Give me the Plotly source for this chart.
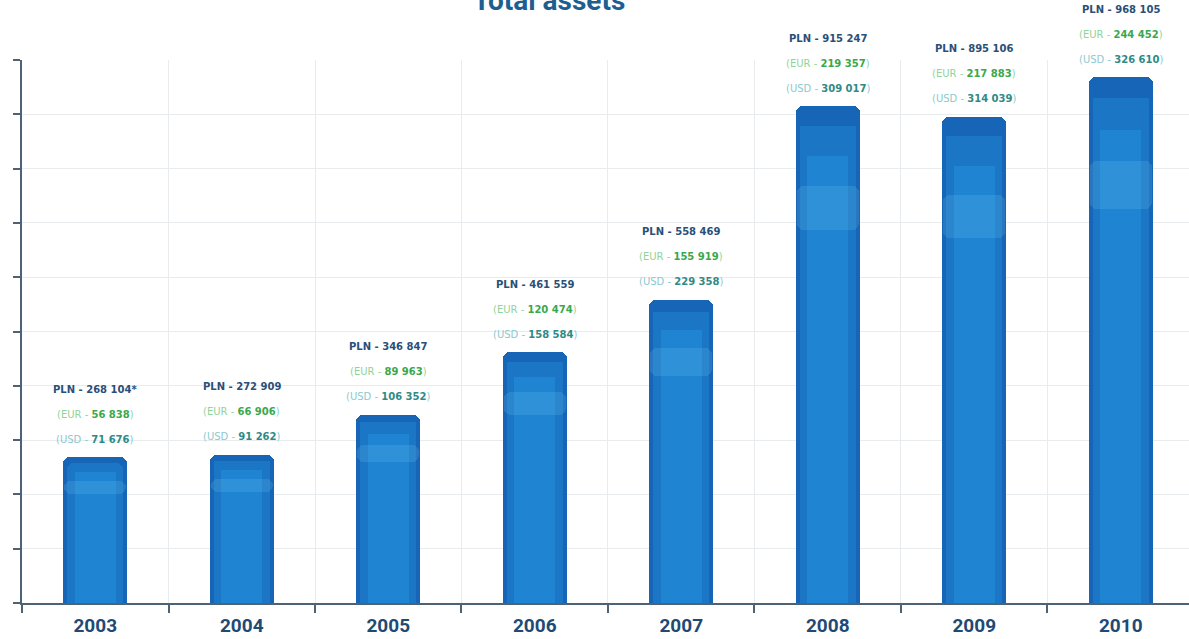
import plotly.graph_objects as go

# Total assets by year, in thousands
years = ["2003", "2004", "2005", "2006", "2007", "2008", "2009", "2010"]
pln = [268104, 272909, 346847, 461559, 558469, 915247, 895106, 968105]
eur = [56838, 66906, 89963, 120474, 155919, 219357, 217883, 244452]
usd = [71676, 91262, 106352, 158584, 229358, 309017, 314039, 326610]
pln_note = ["*", "", "", "", "", "", "", ""]


def fmt(v):
    return f"{v:,}".replace(",", " ")


fig = go.Figure()

# Bar body built from overlaid layers to give a shaded blue column
fig.add_trace(go.Bar(x=years, y=pln, width=0.44, marker=dict(color="#1765b6", line=dict(width=0)),
                     hoverinfo="skip"))
fig.add_trace(go.Bar(x=years, y=[v * 0.96 for v in pln], width=0.38,
                     marker=dict(color="#1b76c6", line=dict(width=0)), hoverinfo="skip"))
fig.add_trace(go.Bar(x=years, y=[v * 0.90 for v in pln], width=0.28,
                     marker=dict(color="#1f84d2", line=dict(width=0)), hoverinfo="skip"))
# Soft sheen band near the top of each column
fig.add_trace(go.Bar(x=years, y=[v * 0.09 for v in pln], base=[v * 0.75 for v in pln], width=0.42,
                     marker=dict(color="rgba(130,215,250,0.16)", line=dict(width=0)), hoverinfo="skip"))

LBL_FONT = "DejaVu Sans"
annotations = []
for i, (p, e, u, n) in enumerate(zip(pln, eur, usd, pln_note)):
    annotations.append(dict(
        x=i, y=p, xref="x", yref="y", yshift=68, yanchor="middle", showarrow=False,
        text=f"<b>PLN - {fmt(p)}{n}</b>",
        font=dict(family=LBL_FONT, size=10, color="#2a4f78")))
    annotations.append(dict(
        x=i, y=p, xref="x", yref="y", yshift=43, yanchor="middle", showarrow=False,
        text=f'<span style="color:#8fd49a">(EUR - </span><b>{fmt(e)}</b><span style="color:#8fd49a">)</span>',
        font=dict(family=LBL_FONT, size=10, color="#3aa84c")))
    annotations.append(dict(
        x=i, y=p, xref="x", yref="y", yshift=18, yanchor="middle", showarrow=False,
        text=f'<span style="color:#8cc9cf">(USD - </span><b>{fmt(u)}</b><span style="color:#8cc9cf">)</span>',
        font=dict(family=LBL_FONT, size=10, color="#2f8a86")))

annotations.append(dict(
    x=0.452, y=1, xref="paper", yref="paper", yshift=60, yanchor="middle", showarrow=False,
    text="<b>Total assets</b>", font=dict(family="Roboto", size=28, color="#1f5f8f")))

fig.update_layout(
    width=1189, height=639,
    margin=dict(l=22, r=0, t=60, b=36),
    paper_bgcolor="white", plot_bgcolor="white",
    barmode="overlay", bargap=0, barcornerradius=7,
    showlegend=False,
    annotations=annotations,
    xaxis=dict(
        type="category", range=[-0.5, 7.466], tickson="boundaries",
        showgrid=True, gridcolor="#e9ecee", gridwidth=1,
        showline=True, linecolor="#4d6275", linewidth=2,
        ticks="outside", ticklen=8, tickcolor="#4d6275", tickwidth=1.5,
        tickfont=dict(family="Roboto", size=19, color="#1f4a73", weight="bold"),
        ticklabelstandoff=4,
    ),
    yaxis=dict(
        range=[0, 1000000], dtick=100000, showticklabels=False,
        showgrid=True, gridcolor="#e9ecee", gridwidth=1,
        showline=True, linecolor="#4d6275", linewidth=2,
        ticks="outside", ticklen=7, tickcolor="#4d6275", tickwidth=1.5,
        zeroline=False,
    ),
)

fig.write_html("out.html")
